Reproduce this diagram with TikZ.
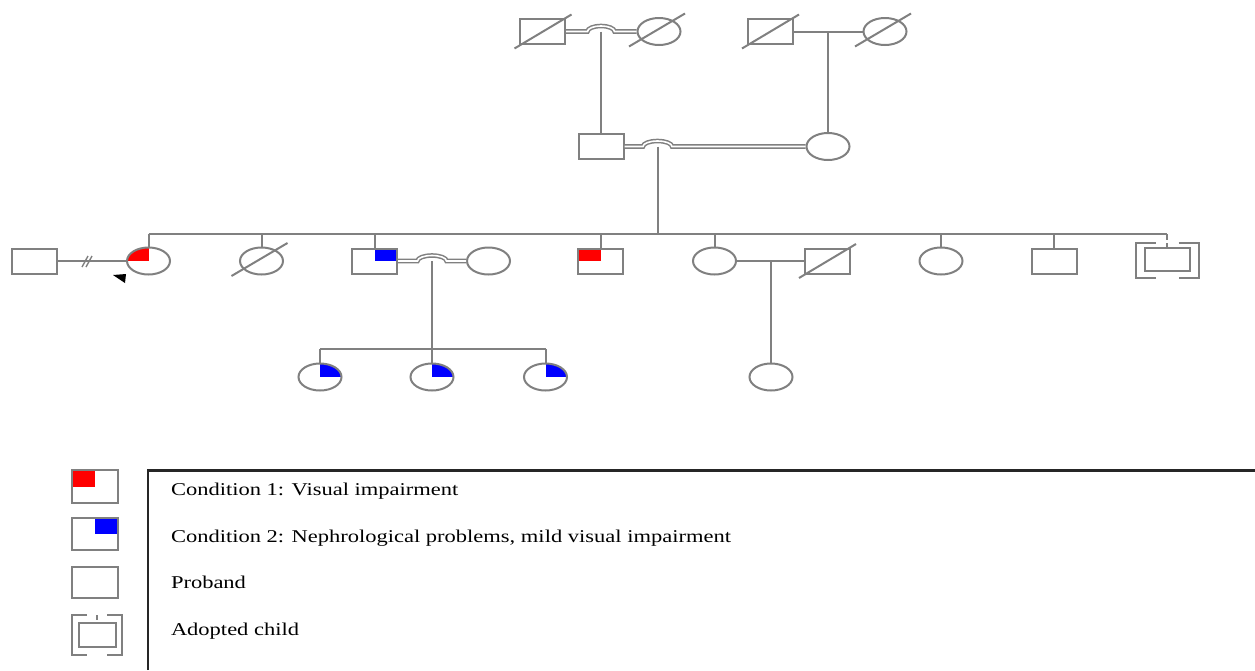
\documentclass[tikz,border=0pt]{standalone}
\usepackage{fontspec}
\setmainfont{Liberation Serif}
\usepackage{graphicx}
\usetikzlibrary{shapes.geometric, positioning}

\definecolor{pedgray}{RGB}{128,128,128}

% brackets round an adopted child: node, half width, half gap, up, down
\newcommand{\adoptbr}[5]{%
  \draw ([xshift=-#3,yshift=#4]#1.center) -| ([xshift=-#2,yshift=-#5]#1.center) -- ([xshift=-#3,yshift=-#5]#1.center);
  \draw ([xshift=#3,yshift=#4]#1.center) -| ([xshift=#2,yshift=-#5]#1.center) -- ([xshift=#3,yshift=-#5]#1.center);
}

\begin{document}
\begin{tikzpicture}[x=1pt, y=-1pt, color=pedgray, line width=2pt,
    male/.style={draw, line width=2pt, rectangle, minimum width=45pt, minimum height=25pt, inner sep=0pt},
    female/.style={draw, line width=2pt, ellipse, minimum width=43pt, minimum height=27pt, inner sep=0pt},
    affone/.style={path picture={\fill[red] (path picture bounding box.center) rectangle (path picture bounding box.north west);}},
    afftwo/.style={path picture={\fill[blue] (path picture bounding box.center) rectangle (path picture bounding box.north east);}},
    dbl/.style={double=white, double distance=1.6pt, line width=1.5pt},
    legtext/.style={anchor=base west, text=black, inner sep=0pt, font=\fontsize{18}{20}\selectfont}]

    \useasboundingbox (0,0) rectangle (1255,670);

    % Generation I
    \node[male] (g1a) at (542.5,31.5) {};
    \node[female] (g1b) at (659,31.5) {};
    \node[male] (g1c) at (770,31.5) {};
    \node[female] (g1d) at (885,31.5) {};

    % Generation II
    \node[male] (g2a) at (601,146.5) {};
    \node[female] (g2b) at (828,146.5) {};

    % Generation III
    \node[male] (g3a) at (34.5,261) {};
    \node[female, affone] (g3b) at (148.5,261) {}; % proband
    \node[female] (g3c) at (261.5,261) {};
    \node[male, afftwo] (g3d) at (374.5,261) {};
    \node[female] (g3e) at (488.5,261) {};
    \node[male, affone] (g3f) at (600.5,261) {};
    \node[female] (g3g) at (714.5,261) {};
    \node[male] (g3h) at (827,261) {};
    \node[female] (g3i) at (941,261) {};
    \node[male] (g3j) at (1054,261) {};
    \node[male, minimum height=23pt] (g3k) at (1167,259.5) {}; % adopted

    % Generation IV
    \node[female, afftwo] (g4a) at (320,377) {};
    \node[female, afftwo] (g4b) at (432,377) {};
    \node[female, afftwo] (g4c) at (545.5,377) {};
    \node[female] (g4d) at (771,377) {};

    % Points where lines of descent start
    \coordinate (m1) at (601,31.5);
    \coordinate (m2) at (828,31.5);
    \coordinate (m3) at (657.5,146.5);
    \coordinate (sib3) at (657.5,234);
    \coordinate (m4) at (432,261);
    \coordinate (sib4) at (432,349);
    \coordinate (m5) at (771,261);

    % Couples
    \draw[dbl] (g1a.east) -- ([xshift=-13.5pt]m1) arc[start angle=180, end angle=0, x radius=13.5pt, y radius=5.5pt] -- (g1b.west);
    \draw (g1c.east) -- (g1d.west);
    \draw[dbl] (g2a.east) -- ([xshift=-14.5pt]m3) arc[start angle=180, end angle=0, x radius=14.5pt, y radius=5.5pt] -- (g2b.west);
    \draw (g3a.east) -- (g3b.west);
    \draw[dbl] (g3d.east) -- ([xshift=-14.5pt]m4) arc[start angle=180, end angle=0, x radius=14.5pt, y radius=5.5pt] -- (g3e.west);
    \draw (g3g.east) -- (g3h.west);

    % Separation marks
    \draw[line width=1.4pt] (82,267) -- (88,256);
    \draw[line width=1.4pt] (86,267) -- (92,256);

    % Lines of descent
    \draw (m1) -- (g2a.north);
    \draw (m2) -- (g2b.north);
    \draw (m3) -- (sib3);
    \draw (g3b.north |- sib3) -- (g3k.north |- sib3);
    \foreach \k in {g3b,g3c,g3d,g3f,g3g,g3i,g3j}
        \draw (\k.north) -- (\k.north |- sib3);
    \draw[dash pattern=on 6pt off 3pt] (g3k.north |- sib3) -- (g3k.north);
    \draw (m4) -- (sib4);
    \draw (g4a.north |- sib4) -- (g4c.north |- sib4);
    \foreach \k in {g4a,g4b,g4c}
        \draw (\k.north) -- (\k.north |- sib4);
    \draw (m5) -- (g4d.north);

    % Deceased
    \foreach \k in {g1a,g1c,g3h}
        \draw ([xshift=-28pt,yshift=-17pt]\k.center) -- ([xshift=29pt,yshift=17pt]\k.center);
    \foreach \k in {g1b,g1d,g3c}
        \draw ([xshift=-30pt,yshift=-15pt]\k.center) -- ([xshift=26pt,yshift=18pt]\k.center);

    % Adopted child and proband arrow
    \adoptbr{g3k}{31.5pt}{11.5pt}{16.5pt}{18.5pt}
    \fill[black] (113,275) -- (126,274) -- (125,283) -- cycle;

    % Legend
    \draw[black!85, line width=2.2pt] (148,670) -- (148,470.5) -- (1255,470.5);
    \node[male, affone, minimum width=46pt, minimum height=33pt] (leg1) at (95,486.5) {};
    \node[male, afftwo, minimum width=46pt, minimum height=32pt] (leg2) at (95,534) {};
    \node[male, minimum width=46pt, minimum height=31pt] (leg3) at (95,582.5) {};
    \node[male, minimum width=37pt, minimum height=24pt] (leg4) at (97,635) {};
    \adoptbr{leg4}{25pt}{10pt}{20pt}{20pt}
    \draw[line width=1.4pt] (leg4.north |- 0,615) -- (leg4.north |- 0,620);

    \node[legtext] (t1) at (170,495) {\scalebox{1.25}[1]{Condition 1: Visual impairment}};
    \node[legtext] (t2) at (170,542) {\scalebox{1.25}[1]{Condition 2: Nephrological problems, mild visual impairment}};
    \node[legtext] (t3) at (170,588) {\scalebox{1.25}[1]{Proband}};
    \node[legtext] (t4) at (170,635) {\scalebox{1.25}[1]{Adopted child}};

\end{tikzpicture}
\end{document}
